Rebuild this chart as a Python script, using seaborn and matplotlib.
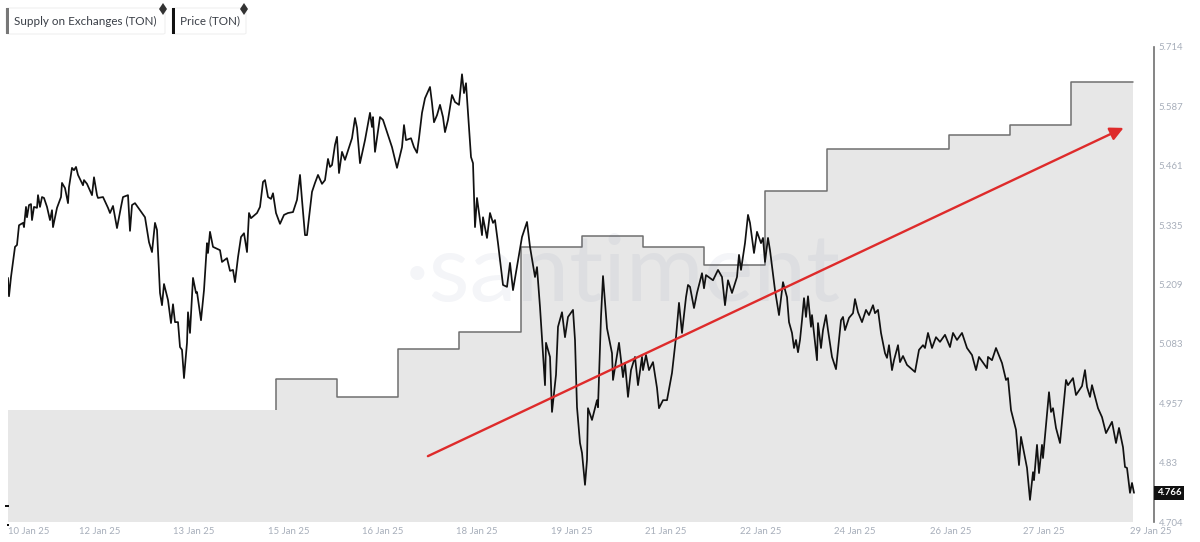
import pandas as pd
import seaborn as sns
import matplotlib.pyplot as plt
from matplotlib.lines import Line2D
from matplotlib.patches import FancyBboxPatch, Rectangle

# daily supply, as share of the hidden axis height (the axis has no labels in the chart)
supply_days = ["2025-01-10 15:00", "2025-01-11", "2025-01-12", "2025-01-13", "2025-01-14",
               "2025-01-15", "2025-01-16", "2025-01-17", "2025-01-18", "2025-01-19",
               "2025-01-20", "2025-01-21", "2025-01-22", "2025-01-23", "2025-01-24",
               "2025-01-25", "2025-01-26", "2025-01-27", "2025-01-28", "2025-01-29"]
supply_vals = [23.6, 23.6, 23.6, 23.6, 23.6, 30.1, 26.3, 36.4, 40.0, 57.9,
               60.2, 57.9, 54.1, 69.7, 78.5, 78.5, 81.5, 83.6, 92.6, 92.6]

# price samples: sample number (one step = 23.53 min) and price
price_step = [0, 1, 3, 7, 9, 11, 15, 16, 18, 19, 21, 23, 24, 26, 29, 30, 32, 34, 36, 39,
              42, 44, 45, 49, 53, 54, 57, 60, 61, 64, 66, 68, 70, 75, 76, 79, 84, 86, 89, 90,
              95, 100, 102, 105, 109, 113, 115, 120, 122, 124, 127, 132, 137, 141, 144, 147, 149, 152, 154, 156,
              160, 163, 165, 167, 170, 172, 174, 176, 179, 180, 182, 185, 188, 189, 193, 196, 199, 200, 202, 205,
              212, 214, 219, 222, 225, 227, 230, 233, 236, 239, 241, 243, 249, 252, 255, 257, 260, 263, 265, 268,
              272, 276, 280, 285, 289, 292, 294, 297, 299, 304, 307, 310, 314, 317, 320, 322, 324, 327, 329, 331,
              334, 337, 344, 347, 349, 352, 357, 362, 364, 365, 367, 372, 375, 379, 384, 389, 394, 396, 398, 403,
              406, 409, 411, 414, 417, 422, 424, 426, 429, 432, 435, 437, 440, 444, 447, 451, 454, 456, 458, 460,
              463, 465, 467, 469, 474, 475, 479, 482, 485, 487, 490, 495, 499, 502, 505, 514, 519, 522, 527, 529,
              532, 537, 538, 542, 544, 548, 550, 554, 557, 560, 565, 567, 569, 572, 574, 577, 579, 580, 584, 589,
              590, 593, 595, 599, 604, 605, 611, 615, 617, 620, 623, 627, 630, 634, 635, 638, 641, 645, 649, 651,
              655, 659, 664, 668, 671, 674, 678, 680, 682, 686, 689, 694, 696, 698, 705, 710, 714, 717, 720, 724,
              729, 731, 733, 737, 740, 742, 746, 749, 753, 755, 757, 760, 762, 767, 771, 775, 779, 781, 784, 786,
              788, 790, 792, 794, 796, 798, 800, 803, 804, 809, 810, 813, 815, 818, 820, 824, 828, 830, 833, 835,
              837, 841, 845, 847, 850, 854, 858, 861, 865, 867, 870, 873, 877, 879, 881, 884, 886, 890, 892, 895,
              899, 907, 911, 915, 917, 920, 924, 928, 932, 937, 942, 945, 949, 954, 959, 964, 968, 971, 979, 980,
              984, 988, 994, 998, 1000, 1003, 1008, 1011, 1013, 1019, 1022, 1025, 1026, 1029, 1031, 1034, 1035, 1041, 1043, 1045,
              1048, 1052, 1058, 1060, 1065, 1068, 1074, 1077, 1079, 1082, 1084, 1090, 1094, 1098, 1104, 1108, 1111, 1115, 1117, 1119, 1122, 1124, 1126]
price_vals = [5.223, 5.184, 5.225, 5.289, 5.293, 5.335, 5.340, 5.331, 5.374, 5.352, 5.378, 5.380, 5.346, 5.374, 5.372, 5.399, 5.374, 5.395, 5.393, 5.374,
              5.346, 5.367, 5.331, 5.372, 5.395, 5.425, 5.414, 5.382, 5.416, 5.457, 5.452, 5.459, 5.442, 5.420, 5.431, 5.423, 5.399, 5.437, 5.399, 5.393,
              5.395, 5.372, 5.361, 5.376, 5.329, 5.374, 5.395, 5.399, 5.323, 5.378, 5.382, 5.367, 5.352, 5.299, 5.278, 5.340, 5.325, 5.191, 5.165, 5.210,
              5.176, 5.127, 5.167, 5.129, 5.129, 5.076, 5.070, 5.010, 5.085, 5.150, 5.106, 5.223, 5.191, 5.193, 5.133, 5.197, 5.297, 5.276, 5.321, 5.289,
              5.282, 5.257, 5.265, 5.238, 5.240, 5.214, 5.267, 5.310, 5.318, 5.278, 5.361, 5.350, 5.361, 5.374, 5.427, 5.431, 5.395, 5.391, 5.403, 5.361,
              5.338, 5.357, 5.361, 5.363, 5.389, 5.442, 5.389, 5.314, 5.314, 5.406, 5.425, 5.442, 5.423, 5.431, 5.476, 5.459, 5.463, 5.506, 5.523, 5.446,
              5.491, 5.474, 5.520, 5.563, 5.542, 5.467, 5.516, 5.574, 5.544, 5.565, 5.491, 5.565, 5.559, 5.533, 5.501, 5.457, 5.501, 5.548, 5.516, 5.520,
              5.501, 5.489, 5.520, 5.574, 5.605, 5.629, 5.595, 5.554, 5.569, 5.591, 5.565, 5.533, 5.559, 5.612, 5.597, 5.591, 5.656, 5.616, 5.637, 5.574,
              5.480, 5.467, 5.331, 5.393, 5.314, 5.352, 5.308, 5.361, 5.340, 5.346, 5.297, 5.208, 5.204, 5.255, 5.197, 5.310, 5.342, 5.289, 5.225, 5.246,
              5.161, 4.995, 5.085, 5.055, 4.938, 5.017, 5.119, 5.150, 5.097, 5.140, 5.155, 5.091, 4.948, 4.872, 4.851, 4.783, 4.836, 4.946, 4.921, 4.963,
              4.948, 5.140, 5.227, 5.116, 5.063, 5.006, 5.085, 5.012, 5.042, 4.970, 5.027, 5.055, 4.995, 5.055, 5.027, 5.059, 5.027, 5.044, 4.989, 4.946,
              4.963, 4.963, 5.021, 5.097, 5.170, 5.106, 5.182, 5.208, 5.204, 5.159, 5.191, 5.233, 5.201, 5.229, 5.218, 5.240, 5.225, 5.165, 5.218, 5.191,
              5.225, 5.272, 5.240, 5.297, 5.357, 5.340, 5.276, 5.321, 5.297, 5.308, 5.257, 5.308, 5.282, 5.197, 5.144, 5.214, 5.182, 5.129, 5.106, 5.074,
              5.091, 5.065, 5.091, 5.133, 5.180, 5.140, 5.184, 5.119, 5.144, 5.048, 5.127, 5.074, 5.112, 5.144, 5.112, 5.055, 5.029, 5.070, 5.133, 5.140,
              5.112, 5.138, 5.148, 5.178, 5.150, 5.129, 5.155, 5.144, 5.165, 5.148, 5.155, 5.106, 5.063, 5.053, 5.080, 5.027, 5.048, 5.080, 5.044, 5.057,
              5.038, 5.023, 5.070, 5.080, 5.074, 5.106, 5.074, 5.097, 5.087, 5.102, 5.076, 5.106, 5.091, 5.106, 5.074, 5.059, 5.027, 5.055, 5.031, 5.055,
              5.048, 5.074, 5.042, 5.006, 5.010, 4.942, 4.900, 4.825, 4.885, 4.819, 4.751, 4.810, 4.793, 4.868, 4.808, 4.868, 4.840, 4.980, 4.938, 4.946,
              4.904, 4.872, 5.006, 4.995, 5.010, 4.974, 4.993, 5.027, 4.991, 4.970, 4.995, 4.946, 4.927, 4.893, 4.917, 4.872, 4.904, 4.863, 4.821, 4.819, 4.766, 4.787, 4.766]

price_ticks = [4.704, 4.83, 4.957, 5.083, 5.209, 5.335, 5.461, 5.587, 5.714]
date_ticks = ["2025-01-10 23:00", "2025-01-12 03:00", "2025-01-13 16:00", "2025-01-15 05:00",
              "2025-01-16 18:00", "2025-01-18 07:00", "2025-01-19 20:00", "2025-01-21 09:00",
              "2025-01-22 22:00", "2025-01-24 11:00", "2025-01-26 00:30", "2025-01-27 13:00",
              "2025-01-29 07:00"]
date_labels = ["10 Jan 25", "12 Jan 25", "13 Jan 25", "15 Jan 25", "16 Jan 25", "18 Jan 25", "19 Jan 25",
               "21 Jan 25", "22 Jan 25", "24 Jan 25", "26 Jan 25", "27 Jan 25", "29 Jan 25"]

START = pd.Timestamp("2025-01-10 15:00")
STEP = pd.Timedelta(minutes=23.53)
GREY_TEXT = "#a7aeba"

sns.set_style("white")
plt.rcParams["font.family"] = ["Lato", "DejaVu Sans"]

W, H = 1200, 542
fig = plt.figure(figsize=(W / 100, H / 100), dpi=100)
ax = fig.add_axes([8 / W, (H - 522) / H, 1146 / W, 475 / H])

supply = pd.DataFrame({"day": pd.to_datetime(supply_days, format="mixed"), "supply": supply_vals})
price = pd.DataFrame({"time": [START + STEP * s for s in price_step], "price": price_vals})

ax.fill_between(supply["day"], supply["supply"], 0, step="post", color="#e7e7e7", lw=0)
# the outline only starts at the first change of the series
outlined = supply[supply["day"] >= "2025-01-15"]
sns.lineplot(data=outlined, x="day", y="supply", drawstyle="steps-post", color="#6f6f6f", lw=1.1, ax=ax)
ax.vlines(outlined["day"].iloc[0], supply_vals[4], supply_vals[5], color="#6f6f6f", lw=1.1)
ax.set_ylim(0, 100)
ax.set_xlim(START, START + STEP * 1146)
ax.set_xlabel("")
ax.set_ylabel("")
ax.set_yticks([])
ax.set_xticks(pd.to_datetime(date_ticks))
ax.set_xticklabels(date_labels, fontsize=6.9, color=GREY_TEXT)
ax.tick_params(axis="x", length=0, pad=3.5)
sns.despine(ax=ax, left=True, bottom=True, right=True, top=True)

ax.text(0.346, 0.52, "\u00b7santiment", transform=ax.transAxes, fontsize=68, fontweight="normal",
        color="#2a3f78", alpha=0.05, ha="left", va="center")

# price on the visible right axis, drawn over the supply area
ax2 = ax.twinx()
sns.lineplot(data=price, x="time", y="price", color="#111111", lw=1.25, ax=ax2)
ax2.set_ylim(4.704, 5.714)
ax2.set_xlim(START, START + STEP * 1146)
ax2.set_ylabel("")
ax2.set_yticks(price_ticks)
ax2.set_yticklabels([f"{t:g}" for t in price_ticks], fontsize=6.9, color=GREY_TEXT)
ax2.tick_params(axis="y", length=0, pad=3.5)
sns.despine(ax=ax2, left=True, bottom=True, top=True, right=False)
ax2.spines["right"].set_color("#6f6f6f")
ax2.spines["right"].set_linewidth(1.2)

ax2.annotate("", xy=(pd.Timestamp("2025-01-28 20:30"), 5.542), xytext=(pd.Timestamp("2025-01-17 11:40"), 4.844),
             arrowprops=dict(arrowstyle="-|>", color="#de2b2b", lw=1.7, mutation_scale=20,
                             shrinkA=0, shrinkB=0))

# last price tag
ax2.text(1.0027, 4.766, "4.766", transform=ax2.get_yaxis_transform(), fontsize=6.9, fontweight="bold",
         color="white", ha="left", va="center", clip_on=False,
         bbox=dict(boxstyle="square,pad=0.28", fc="#111111", ec="none"))


def chip(x, width, label, bar_colour):
    box = FancyBboxPatch((x / W, 1 - 34 / H), width / W, 26 / H, boxstyle="round,pad=0,rounding_size=0.002",
                         transform=fig.transFigure, fc="white", ec="#f0f0f0", lw=0.8)
    fig.add_artist(box)
    fig.add_artist(Rectangle((x / W, 1 - 34 / H), 2.5 / W, 26 / H, transform=fig.transFigure,
                             fc=bar_colour, ec="none"))
    fig.text((x + 8) / W, 1 - 21 / H, label, fontsize=8.4, color="#3a3f47", va="center", ha="left")
    # little ethereum badge on the chip corner
    fig.add_artist(Line2D([(x + width - 2) / W], [1 - 9 / H], marker="d", markersize=6.5, markeredgewidth=0,
                          color="#333333", transform=fig.transFigure))


chip(6, 159, "Supply on Exchanges (TON)", "#777777")
chip(172, 74, "Price (TON)", "#111111")

# stray marks at the lower left edge of the chart
fig.add_artist(Rectangle((5 / W, 1 - 507 / H), 4 / W, 2 / H, transform=fig.transFigure, fc="#111111", ec="none"))
fig.add_artist(Rectangle((7 / W, 1 - 526 / H), 2 / W, 2 / H, transform=fig.transFigure, fc="#111111", ec="none"))

fig.savefig("out.png", dpi=100, facecolor="white")
